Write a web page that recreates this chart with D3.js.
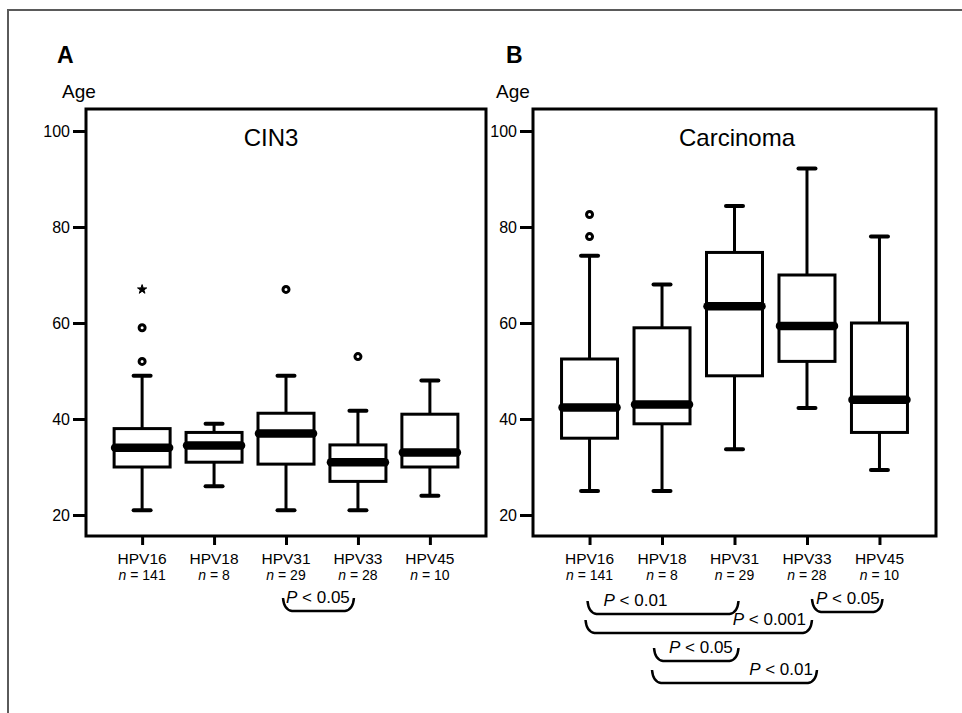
<!DOCTYPE html>
<html>
<head>
<meta charset="utf-8">
<script src="https://cdn.jsdelivr.net/npm/d3@7"></script>
<style>
	body { margin: 0; background: white; }
	svg { display: block; font-family: "Liberation Sans", Arial, sans-serif; }
</style>
</head>
<body>
<svg id="chart" width="962" height="713"></svg>
<script>
// categories and sample sizes
var categories = ["HPV16", "HPV18", "HPV31", "HPV33", "HPV45"];
var sampleSizes = [141, 8, 29, 28, 10];
var yTicks = [20, 40, 60, 80, 100];

// CIN3 (panel A)
var cin3Low = [21, 26, 21, 21, 24];
var cin3Q1 = [30, 31, 30.6, 27, 30];
var cin3Median = [34, 34.5, 37, 31, 33];
var cin3Q3 = [38, 37.2, 41.2, 34.6, 41];
var cin3High = [49, 39, 49, 41.7, 48];
var cin3Outliers = [[52, 59], [], [67], [53], []];
var cin3Extremes = [[67], [], [], [], []];
var cin3Tests = [{from: "HPV31", to: "HPV33", p: "0.05"}];

// Carcinoma (panel B)
var carLow = [25, 25, 33.7, 42.3, 29.4];
var carQ1 = [36, 39, 49, 52, 37.2];
var carMedian = [42.4, 43, 63.5, 59.4, 44];
var carQ3 = [52.5, 59, 74.7, 70, 60];
var carHigh = [74, 68, 84.4, 92.2, 78];
var carOutliers = [[78, 82.6], [], [], [], []];
var carExtremes = [[], [], [], [], []];
var carTests = [
	{from: "HPV16", to: "HPV31", p: "0.01"},
	{from: "HPV16", to: "HPV33", p: "0.001"},
	{from: "HPV33", to: "HPV45", p: "0.05"},
	{from: "HPV18", to: "HPV31", p: "0.05"},
	{from: "HPV18", to: "HPV33", p: "0.01"}
];

// bracket placement (layout only)
var cin3BracketLayout = [{top: 598, x1: -3, x2: -4, align: "start", dx: 3}];
var carBracketLayout = [
	{top: 601, x1: -2, x2: 4, align: "start", dx: 16},
	{top: 620, x1: -4, x2: 5, align: "end", dx: -6},
	{top: 599, x1: 5, x2: 3, align: "start", dx: 4},
	{top: 648, x1: -8, x2: 4, align: "start", dx: 15},
	{top: 670, x1: -10, x2: 10, align: "end", dx: -4}
];

var svg = d3.select("#chart");

// outer frame (cropped: only top and left edges visible)
svg.append("path")
	.attr("d", "M8,713V10H962")
	.attr("fill", "none")
	.attr("stroke", "#5a5a5a")
	.attr("stroke-width", 2);

var y = d3.scaleLinear().domain([20, 100]).range([515, 131]);
var frameTop = 109, frameBottom = 536;

function drawPanel(p) {
	var g = svg.append("g");
	var x = d3.scalePoint().domain(categories).range([p.left, p.right]).padding(0.78);

	// panel letter and axis title
	g.append("text")
		.attr("x", p.letterX).attr("y", 63)
		.attr("font-size", 23).attr("font-weight", "bold")
		.text(p.letter);
	g.append("text")
		.attr("x", p.ageX).attr("y", 98)
		.attr("font-size", 19)
		.text("Age");

	// y axis
	var yAxis = d3.axisLeft(y).tickValues(yTicks).tickSize(13).tickPadding(3);
	var ya = g.append("g")
		.attr("transform", "translate(" + p.left + ",0)")
		.call(yAxis);
	ya.select(".domain").remove();
	ya.selectAll("line").attr("stroke", "black").attr("stroke-width", 3);
	ya.selectAll("text")
		.attr("font-size", 16)
		.attr("font-family", "Liberation Sans, Arial, sans-serif")
		.attr("fill", "black");

	// x axis ticks
	var xAxis = d3.axisBottom(x).tickSize(9).tickFormat("");
	var xa = g.append("g")
		.attr("transform", "translate(0," + frameBottom + ")")
		.call(xAxis);
	xa.select(".domain").remove();
	xa.selectAll("line").attr("stroke", "black").attr("stroke-width", 3);

	// category labels
	var labels = g.selectAll(".catLabel").data(categories).enter().append("g")
		.attr("class", "catLabel")
		.attr("transform", d => "translate(" + x(d) + ",0)");
	labels.append("text")
		.attr("y", 564)
		.attr("text-anchor", "middle")
		.attr("font-size", 15.5)
		.text(d => d);
	var nText = labels.append("text")
		.attr("y", 580)
		.attr("text-anchor", "middle")
		.attr("font-size", 14);
	nText.append("tspan").attr("font-style", "italic").text("n");
	nText.append("tspan").text((d, i) => " = " + sampleSizes[i]);

	// plot frame
	g.append("rect")
		.attr("x", p.left).attr("y", frameTop)
		.attr("width", p.right - p.left).attr("height", frameBottom - frameTop)
		.attr("fill", "none")
		.attr("stroke", "black")
		.attr("stroke-width", 3);

	// title
	g.append("text")
		.attr("x", p.titleX).attr("y", 146)
		.attr("text-anchor", "middle")
		.attr("font-size", 24)
		.text(p.title);

	// boxes
	var boxW = 56, capW = 17, medW = 54;
	var boxes = g.selectAll(".box").data(categories).enter().append("g")
		.attr("class", "box")
		.attr("transform", d => "translate(" + x(d) + ",0)");
	boxes.append("line")
		.attr("x1", 0).attr("x2", 0)
		.attr("y1", (d, i) => y(p.q3[i])).attr("y2", (d, i) => y(p.high[i]))
		.attr("stroke", "black").attr("stroke-width", 3);
	boxes.append("line")
		.attr("x1", 0).attr("x2", 0)
		.attr("y1", (d, i) => y(p.q1[i])).attr("y2", (d, i) => y(p.low[i]))
		.attr("stroke", "black").attr("stroke-width", 3);
	boxes.append("line")
		.attr("x1", -capW / 2).attr("x2", capW / 2)
		.attr("y1", (d, i) => y(p.high[i])).attr("y2", (d, i) => y(p.high[i]))
		.attr("stroke", "black").attr("stroke-width", 4)
		.attr("stroke-linecap", "round");
	boxes.append("line")
		.attr("x1", -capW / 2).attr("x2", capW / 2)
		.attr("y1", (d, i) => y(p.low[i])).attr("y2", (d, i) => y(p.low[i]))
		.attr("stroke", "black").attr("stroke-width", 4)
		.attr("stroke-linecap", "round");
	boxes.append("rect")
		.attr("x", -boxW / 2)
		.attr("y", (d, i) => y(p.q3[i]))
		.attr("width", boxW)
		.attr("height", (d, i) => y(p.q1[i]) - y(p.q3[i]))
		.attr("fill", "white")
		.attr("stroke", "black").attr("stroke-width", 3);
	boxes.append("line")
		.attr("x1", -medW / 2).attr("x2", medW / 2)
		.attr("y1", (d, i) => y(p.median[i])).attr("y2", (d, i) => y(p.median[i]))
		.attr("stroke", "black").attr("stroke-width", 8.5)
		.attr("stroke-linecap", "round");

	// outliers (circles) and extremes (stars)
	boxes.each(function(d, i) {
		var b = d3.select(this);
		b.selectAll(".outlier").data(p.outliers[i]).enter().append("circle")
			.attr("class", "outlier")
			.attr("cx", 0).attr("cy", v => y(v))
			.attr("r", 3)
			.attr("fill", "white")
			.attr("stroke", "black").attr("stroke-width", 3);
		b.selectAll(".extreme").data(p.extremes[i]).enter().append("path")
			.attr("class", "extreme")
			.attr("transform", v => "translate(0," + y(v) + ")")
			.attr("d", d3.symbol().type(d3.symbolStar).size(26)())
			.attr("fill", "black")
			.attr("stroke", "black").attr("stroke-width", 1);
	});

	// significance brackets
	p.tests.forEach(function(t, i) {
		var lay = p.bracketLayout[i];
		var x1 = x(t.from) + lay.x1, x2 = x(t.to) + lay.x2;
		var top = lay.top, bot = lay.top + 13;
		g.append("path")
			.attr("d", "M" + x1 + "," + top
				+ "Q" + (x1 + 1) + "," + (bot - 1) + " " + (x1 + 9) + "," + bot
				+ "L" + (x2 - 9) + "," + bot
				+ "Q" + (x2 - 1) + "," + (bot - 1) + " " + x2 + "," + top)
			.attr("fill", "none")
			.attr("stroke", "black")
			.attr("stroke-width", 2.5);
		var tx = lay.align == "start" ? x1 + lay.dx : x2 + lay.dx;
		var txt = g.append("text")
			.attr("x", tx).attr("y", top + 5)
			.attr("text-anchor", lay.align)
			.attr("font-size", 17);
		txt.append("tspan").attr("font-style", "italic").text("P");
		txt.append("tspan").text(" < " + t.p);
	});
}

drawPanel({
	left: 86, right: 486, letter: "A", letterX: 57, ageX: 62,
	title: "CIN3", titleX: 271,
	low: cin3Low, q1: cin3Q1, median: cin3Median, q3: cin3Q3, high: cin3High,
	outliers: cin3Outliers, extremes: cin3Extremes,
	tests: cin3Tests, bracketLayout: cin3BracketLayout
});
drawPanel({
	left: 533, right: 936, letter: "B", letterX: 506, ageX: 496,
	title: "Carcinoma", titleX: 737,
	low: carLow, q1: carQ1, median: carMedian, q3: carQ3, high: carHigh,
	outliers: carOutliers, extremes: carExtremes,
	tests: carTests, bracketLayout: carBracketLayout
});
</script>
</body>
</html>
